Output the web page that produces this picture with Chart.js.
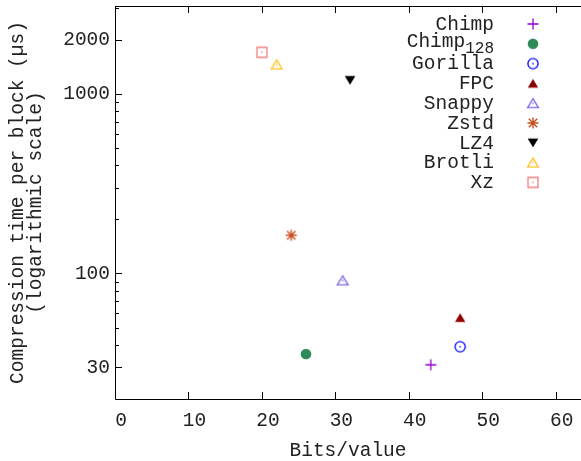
<!DOCTYPE html>
<html>
<head>
<meta charset="utf-8">
<script src="https://cdn.jsdelivr.net/npm/chart.js@4.4.0/dist/chart.umd.min.js"></script>
<style>
html, body { margin: 0; padding: 0; background: #fff; overflow: hidden; }
canvas { display: block; }
</style>
</head>
<body>
<canvas id="graphique" width="581" height="461"></canvas>
<script>
const methods = ['Chimp', 'Chimp_{128}', 'Gorilla', 'FPC', 'Snappy', 'Zstd', 'LZ4', 'Brotli', 'Xz'];
const bitsPerValue = [43.0, 26.0, 47.0, 47.0, 31.0, 24.0, 32.0, 22.0, 20.0];
const compressionTime = [31.0, 35.6, 39.1, 56.7, 91.4, 163, 1190, 1455, 1700];
const xTicks = [0, 10, 20, 30, 40, 50, 60];
const yTicks = [30, 100, 1000, 2000];
const yMinorTicks = [40, 50, 60, 70, 80, 90, 200, 300, 400, 500, 600, 700, 800, 900, 3000];

const FONT = "'Liberation Mono', 'Courier New', monospace";
const TEXT_COLOR = '#222';

// style of each marker (gnuplot like)
const markers = [
    { shape: 'plus', color: '#9400d3' },
    { shape: 'dot', color: '#2e8b57' },
    { shape: 'circle', color: '#0000ff' },
    { shape: 'triangleFilled', color: '#8b0000' },
    { shape: 'triangle', color: '#7b68ee' },
    { shape: 'star', color: '#c8501e' },
    { shape: 'triangleDown', color: '#000000' },
    { shape: 'triangle', color: '#ffc020' },
    { shape: 'square', color: '#f08080' }
];

function makeMarker(shape, color) {
    const size = 16;
    const c = document.createElement('canvas');
    c.width = size;
    c.height = size;
    const ctx = c.getContext('2d');
    const m = size / 2;
    ctx.strokeStyle = color;
    ctx.fillStyle = color;
    ctx.lineWidth = 1.3;
    const centerDot = () => ctx.fillRect(m - 0.7, m - 0.7, 1.4, 1.4);
    ctx.beginPath();
    switch (shape) {
        case 'plus':
            ctx.moveTo(m - 5.5, m); ctx.lineTo(m + 5.5, m);
            ctx.moveTo(m, m - 5.5); ctx.lineTo(m, m + 5.5);
            ctx.stroke();
            break;
        case 'star':
            ctx.lineWidth = 1.4;
            ctx.moveTo(m - 5.5, m); ctx.lineTo(m + 5.5, m);
            ctx.moveTo(m, m - 5.5); ctx.lineTo(m, m + 5.5);
            ctx.moveTo(m - 4.2, m - 4.2); ctx.lineTo(m + 4.2, m + 4.2);
            ctx.moveTo(m - 4.2, m + 4.2); ctx.lineTo(m + 4.2, m - 4.2);
            ctx.stroke();
            break;
        case 'dot':
            ctx.arc(m, m, 5.3, 0, 2 * Math.PI);
            ctx.fill();
            break;
        case 'circle':
            ctx.arc(m, m, 5.1, 0, 2 * Math.PI);
            ctx.stroke();
            centerDot();
            break;
        case 'triangleFilled':
            ctx.moveTo(m, m - 4.4); ctx.lineTo(m + 5.2, m + 4.2); ctx.lineTo(m - 5.2, m + 4.2);
            ctx.closePath();
            ctx.fill();
            break;
        case 'triangle':
            ctx.moveTo(m, m - 4.6); ctx.lineTo(m + 5.4, m + 4.4); ctx.lineTo(m - 5.4, m + 4.4);
            ctx.closePath();
            ctx.stroke();
            centerDot();
            break;
        case 'triangleDown':
            ctx.moveTo(m, m + 4.4); ctx.lineTo(m + 5.3, m - 4.2); ctx.lineTo(m - 5.3, m - 4.2);
            ctx.closePath();
            ctx.fill();
            break;
        case 'square':
            ctx.rect(m - 5, m - 5, 10, 10);
            ctx.stroke();
            centerDot();
            break;
    }
    return c;
}

const markerImages = markers.map(mk => makeMarker(mk.shape, mk.color));

// cadre (gauche, haut, bas) et graduations vers l'intérieur
const cadrePlugin = {
    id: 'cadre',
    beforeDatasetsDraw(chart) {
        const { ctx, chartArea: a, scales: { x, y } } = chart;
        ctx.save();
        ctx.strokeStyle = '#000';
        ctx.lineWidth = 1;
        ctx.beginPath();
        xTicks.forEach(v => {
            const px = Math.round(x.getPixelForValue(v)) + 0.5;
            ctx.moveTo(px, a.bottom); ctx.lineTo(px, a.bottom - 7);
            ctx.moveTo(px, a.top); ctx.lineTo(px, a.top + 7);
        });
        const yTick = (v, len) => {
            const py = Math.round(y.getPixelForValue(v)) + 0.5;
            ctx.moveTo(a.left, py); ctx.lineTo(a.left + len, py);
        };
        yTicks.forEach(v => yTick(v, 7));
        yMinorTicks.forEach(v => yTick(v, 4));
        // bordure
        ctx.moveTo(a.right, a.top + 0.5);
        ctx.lineTo(a.left + 0.5, a.top + 0.5);
        ctx.lineTo(a.left + 0.5, a.bottom + 0.5);
        ctx.lineTo(a.right, a.bottom + 0.5);
        ctx.stroke();
        ctx.restore();
    }
};

// légende à droite, texte aligné à droite
const legendePlugin = {
    id: 'legende',
    afterDraw(chart) {
        const ctx = chart.ctx;
        ctx.save();
        ctx.fillStyle = TEXT_COLOR;
        ctx.textAlign = 'right';
        ctx.textBaseline = 'alphabetic';
        chart.data.datasets.forEach((ds, i) => {
            const rowY = 24 + i * 19.8;
            const parts = ds.label.split('_{');
            if (parts.length > 1) {
                const sub = parts[1].replace('}', '');
                ctx.font = `16px ${FONT}`;
                const subW = ctx.measureText(sub).width;
                ctx.fillText(sub, 494, rowY + 9.5);
                ctx.font = `19.5px ${FONT}`;
                ctx.fillText(parts[0], 494 - subW, rowY + 3.5);
            } else {
                ctx.font = `19.5px ${FONT}`;
                ctx.fillText(ds.label, 494, rowY + 5.7);
            }
            const img = markerImages[i];
            ctx.drawImage(img, 533 - img.width / 2, rowY - img.height / 2);
        });
        ctx.restore();
    }
};

document.addEventListener('DOMContentLoaded', function () {
    const canvas = document.getElementById('graphique');

    const datasets = methods.map((name, i) => ({
        label: name,
        data: [{ x: bitsPerValue[i], y: compressionTime[i] }],
        pointStyle: markerImages[i],
        pointRadius: 6,
        backgroundColor: markers[i].color,
        borderColor: markers[i].color
    }));

    new Chart(canvas.getContext('2d'), {
        type: 'scatter',
        data: { datasets: datasets },
        options: {
            responsive: false,
            animation: false,
            devicePixelRatio: 1,
            layout: { autoPadding: false, padding: { top: 6, left: 0, right: 0, bottom: 0 } },
            plugins: {
                legend: { display: false },
                tooltip: { enabled: false }
            },
            scales: {
                x: {
                    type: 'linear',
                    min: 0,
                    max: 63.45,
                    afterBuildTicks: s => { s.ticks = xTicks.map(v => ({ value: v })); },
                    afterFit: s => {
                        s.height = 62;
                        s.paddingLeft = 0;
                        s.paddingRight = 0;
                    },
                    grid: { display: false, drawTicks: false },
                    border: { display: false },
                    ticks: {
                        autoSkip: false,
                        maxRotation: 0,
                        padding: 10,
                        labelOffset: 6,
                        color: TEXT_COLOR,
                        font: { family: FONT, size: 19.5 },
                        callback: v => String(v)
                    },
                    title: {
                        display: true,
                        text: 'Bits/value',
                        color: TEXT_COLOR,
                        font: { family: FONT, size: 19.5, lineHeight: '18px' },
                        padding: { top: 0, bottom: 1 }
                    }
                },
                y: {
                    type: 'logarithmic',
                    min: 20,
                    max: 3080,
                    afterBuildTicks: s => { s.ticks = yTicks.map(v => ({ value: v })); },
                    afterFit: s => {
                        s.width = 115;
                        s.paddingTop = 0;
                        s.paddingBottom = 0;
                    },
                    grid: { display: false, drawTicks: false },
                    border: { display: false },
                    ticks: {
                        autoSkip: false,
                        padding: 5,
                        color: TEXT_COLOR,
                        font: { family: FONT, size: 19.5 },
                        callback: v => String(v)
                    },
                    title: {
                        display: true,
                        text: ['Compression time per block (µs)', '(logarithmic scale)'],
                        color: TEXT_COLOR,
                        font: { family: FONT, size: 19.5, lineHeight: '18px' },
                        padding: { top: 9, bottom: 0 }
                    }
                }
            }
        },
        plugins: [cadrePlugin, legendePlugin]
    });
});
</script>
</body>
</html>
